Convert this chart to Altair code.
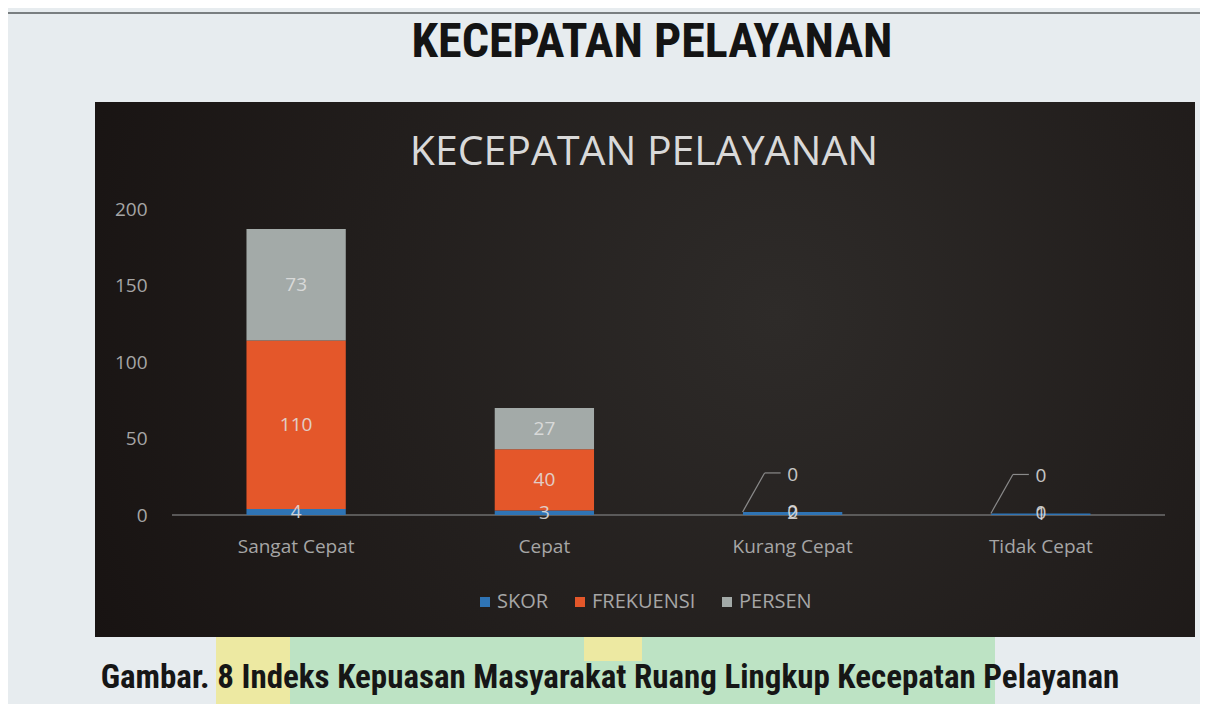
import altair as alt
import pandas as pd

# ---- data ----
categories = ["Sangat Cepat", "Cepat", "Kurang Cepat", "Tidak Cepat"]
series = ["SKOR", "FREKUENSI", "PERSEN"]
skor = [4, 3, 2, 1]
frekuensi = [110, 40, 0, 0]
persen = [73, 27, 0, 0]
y_ticks = [0, 50, 100, 150, 200]
series_colors = ["#2f74b5", "#e4572a", "#a3aaa8"]

page_title = "KECEPATAN PELAYANAN"
chart_title = "KECEPATAN PELAYANAN"
caption = "Gambar. 8 Indeks Kepuasan Masyarakat Ruang Lingkup Kecepatan Pelayanan"

rows = []
for i, c in enumerate(categories):
    total = skor[i] + frekuensi[i] + persen[i]
    for j, (s, vals) in enumerate(zip(series, [skor, frekuensi, persen])):
        rows.append({
            "kategori": c, "seri": s, "nilai": vals[i], "urut": j,
            "total": total,
            # Excel moved the empty top label away with a leader line
            "pindah": bool(s == "PERSEN" and vals[i] == 0),
        })
df = pd.DataFrame(rows)

W, H = 993, 306
FONT = "Open Sans"
BOLDFONT = "Roboto Condensed, Roboto, sans-serif"
TXT = "#a6a6a6"

xaxis = alt.Axis(title=None, labelAngle=0, domain=False, ticks=False, grid=False,
                 labelPadding=22, labelColor=TXT, labelFontSize=19, labelFont=FONT, zindex=1)
yaxis = alt.Axis(title=None, values=y_ticks, domain=False, ticks=False, grid=False,
                 labelPadding=25, labelColor=TXT, labelFontSize=19, labelFont=FONT, zindex=1)
xscale = alt.Scale(paddingInner=0.6, paddingOuter=0.3)
yscale = alt.Scale(domain=[0, 200], nice=False, zero=True)

def X():
    return alt.X("kategori:N", sort=categories, scale=xscale, axis=xaxis)

one = pd.DataFrame({"k": [0]})

def deco_rect(x, x2, y, y2, **kw):
    return alt.Chart(one).mark_rect(**kw).encode(
        x=alt.value(x), x2=alt.value(x2), y=alt.value(y), y2=alt.value(y2))

def deco_text(txt, x, y, **kw):
    return alt.Chart(pd.DataFrame({"t": [txt]})).mark_text(**kw).encode(
        text="t:N", x=alt.value(x), y=alt.value(y))

# page decorations (plot-relative pixels)
green = deco_rect(44, 823, 428, 510, color="#bde3c4")
yellow1 = deco_rect(44, 118, 428, 510, color="#ede9a2")
yellow2 = deco_rect(412, 470, 428, 452, color="#ede9a2")
border = deco_rect(-165, 1060, -196, 520, fill="#e7ecef", fillOpacity=0,
                   stroke="#55595c", strokeWidth=1.5)
panel = alt.Chart(one).mark_rect(
    fill={"gradient": "radial", "x1": 0.62, "y1": 0.45, "r1": 0.0,
          "x2": 0.62, "y2": 0.45, "r2": 0.75,
          "stops": [{"offset": 0, "color": "#2e2b29"},
                    {"offset": 1, "color": "#161110"}]}
).encode(x=alt.value(-77), x2=alt.value(1023), y=alt.value(-107), y2=alt.value(428))

inner_title = deco_text(chart_title, 472, -56, font=FONT, fontSize=41, color="#d9d9d9",
                        align="center", baseline="middle")
top_title = deco_text(page_title, 480, -166, font=BOLDFONT, fontSize=48,
                      fontWeight="bold", color="#141414", align="center", baseline="middle")
cap = deco_text(caption, 438, 469, font=BOLDFONT, fontSize=33,
                fontWeight="bold", color="#161616", align="center", baseline="middle")

baseline = alt.Chart(one).mark_rule(color="#6e6e6e", strokeWidth=1.5).encode(y=alt.datum(0))

bars = alt.Chart(df).mark_bar().encode(
    x=X(),
    y=alt.Y("nilai:Q", stack="zero", scale=yscale, axis=yaxis),
    color=alt.Color("seri:N", sort=series,
                    scale=alt.Scale(domain=series, range=series_colors),
                    legend=alt.Legend(orient="none", legendX=303, legendY=383,
                                      direction="horizontal", title=None,
                                      symbolType="square", symbolSize=100,
                                      symbolStrokeWidth=0,
                                      labelColor=TXT, labelFontSize=20, labelFont=FONT,
                                      columnPadding=21, labelOffset=2, zindex=1)),
    order=alt.Order("urut:Q"),
)

stacked = alt.Chart(df).transform_stack(
    stack="nilai", groupby=["kategori"], as_=["y0", "y1"],
    sort=[alt.SortField("urut")]
).transform_calculate(mid="(datum.y0 + datum.y1) / 2")

labels = stacked.transform_filter("!datum.pindah").mark_text(
    font=FONT, fontSize=19, color="#e2e2e2", opacity=0.85, baseline="middle"
).encode(x=X(), y=alt.Y("mid:Q", scale=yscale, axis=yaxis), text="nilai:Q")

moved = stacked.transform_filter("datum.pindah").mark_text(
    font=FONT, fontSize=19, color="#e2e2e2", opacity=0.85, baseline="middle", dy=-37
).encode(x=X(), y=alt.Y("total:Q", scale=yscale, axis=yaxis), text="nilai:Q")

lead_d = alt.Chart(df).transform_filter("datum.pindah").mark_rule(
    color="#8a8a8a", strokeWidth=1.2, xOffset=-50, x2Offset=-28, y2Offset=-39
).encode(x=X(), x2="kategori:N", y=alt.Y("total:Q", scale=yscale, axis=yaxis), y2="total:Q")

lead_h = alt.Chart(df).transform_filter("datum.pindah").mark_rule(
    color="#8a8a8a", strokeWidth=1.2, xOffset=-28, x2Offset=-12, yOffset=-39, y2Offset=-39
).encode(x=X(), x2="kategori:N", y=alt.Y("total:Q", scale=yscale, axis=yaxis), y2="total:Q")

chart = alt.layer(
    green, yellow1, yellow2, border, panel, inner_title, baseline,
    bars, labels, moved, lead_d, lead_h, top_title, cap
).properties(
    width=W, height=H,
    padding={"left": 164, "top": 201, "right": 35, "bottom": 189},
    autosize=alt.AutoSizeParams(type="none"),
    background="#e7ecef",
).configure_view(stroke=None)

chart.save("out.html", embed_options={"renderer": "svg", "actions": False})
